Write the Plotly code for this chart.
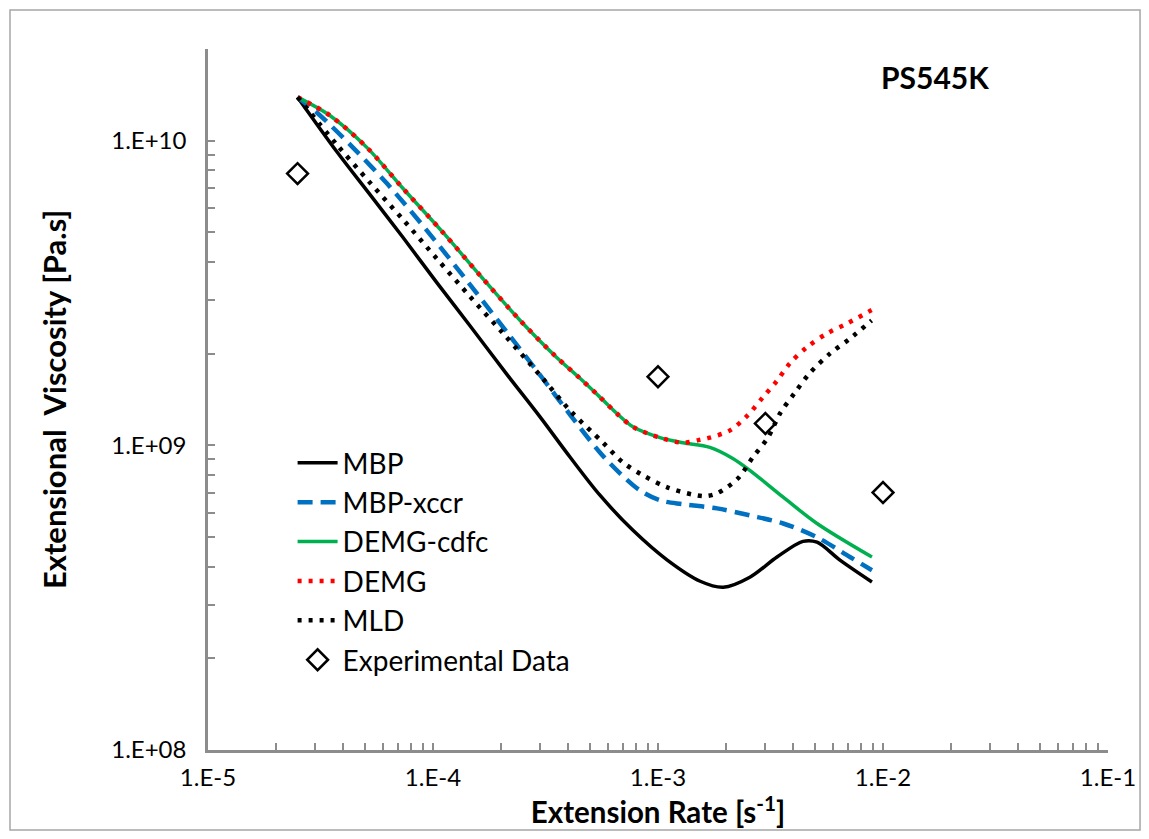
import numpy as np
import plotly.graph_objects as go

# ---------------- data ----------------
mbp_x = [2.5e-5, 3.74e-5, 5.25e-5, 7.36e-5, 1.04e-4, 1.46e-4, 2.13e-4, 2.99e-4, 4.07e-4, 5.52e-4,
         7.74e-4, 1.10e-3, 1.54e-3, 1.95e-3, 2.56e-3, 3.38e-3, 4.41e-3, 5.09e-3, 6.44e-3, 8.93e-3]
mbp_y = [1.39e10, 9.2e9, 6.65e9, 4.81e9, 3.42e9, 2.47e9, 1.71e9, 1.24e9, 9.14e8, 6.86e8,
         5.26e8, 4.20e8, 3.58e8, 3.42e8, 3.69e8, 4.30e8, 4.84e8, 4.81e8, 4.20e8, 3.56e8]

xccr_x = [2.5e-5, 3.15e-5, 4.41e-5, 6.25e-5, 9.40e-5, 1.46e-4, 2.20e-4, 3.05e-4, 4.07e-4,
          5.52e-4, 6.78e-4, 8.32e-4, 1.02e-3, 1.29e-3, 1.83e-3, 2.56e-3, 3.60e-3, 5.09e-3, 7.13e-3, 8.93e-3]
xccr_y = [1.39e10, 1.21e10, 9.49e9, 7.23e9, 5.07e9, 3.37e9, 2.28e9, 1.67e9, 1.26e9,
          9.48e8, 8.09e8, 7.11e8, 6.60e8, 6.41e8, 6.21e8, 5.89e8, 5.54e8, 4.99e8, 4.30e8, 3.89e8]

cdfc_x = [2.5e-5, 3.48e-5, 5.09e-5, 7.36e-5, 1.11e-4, 1.62e-4, 2.44e-4, 3.48e-4, 4.50e-4, 5.52e-4,
          6.58e-4, 7.74e-4, 1.02e-3, 1.29e-3, 1.70e-3, 2.15e-3, 2.56e-3, 3.60e-3, 5.09e-3, 8.93e-3]
cdfc_y = [1.39e10, 1.21e10, 9.49e9, 6.97e9, 4.99e9, 3.61e9, 2.57e9, 1.97e9, 1.66e9, 1.44e9,
          1.27e9, 1.15e9, 1.06e9, 1.02e9, 9.85e8, 9.06e8, 8.28e8, 6.76e8, 5.54e8, 4.30e8]

demg_x = [2.5e-5, 3.48e-5, 5.09e-5, 7.36e-5, 1.11e-4, 1.62e-4, 2.44e-4, 3.48e-4, 4.50e-4, 5.52e-4,
          6.58e-4, 7.74e-4, 1.02e-3, 1.29e-3, 1.51e-3, 1.70e-3, 2.09e-3, 2.49e-3, 2.93e-3, 3.38e-3,
          3.86e-3, 4.59e-3, 5.64e-3, 6.92e-3, 8.90e-3]
demg_y = [1.39e10, 1.21e10, 9.49e9, 6.97e9, 4.99e9, 3.61e9, 2.57e9, 1.97e9, 1.66e9, 1.44e9,
          1.27e9, 1.15e9, 1.06e9, 1.02e9, 1.04e9, 1.06e9, 1.12e9, 1.25e9, 1.44e9, 1.63e9,
          1.86e9, 2.10e9, 2.33e9, 2.51e9, 2.78e9]

mld_x = [2.5e-5, 3.74e-5, 5.25e-5, 7.36e-5, 1.04e-4, 1.46e-4, 2.05e-4, 3.05e-4, 4.07e-4,
         5.70e-4, 6.99e-4, 8.58e-4, 1.10e-3, 1.42e-3, 1.62e-3, 1.83e-3, 2.27e-3, 2.64e-3, 3.08e-3,
         3.48e-3, 4.06e-3, 4.74e-3, 5.81e-3, 7.13e-3, 8.90e-3]
mld_y = [1.39e10, 9.7e9, 7.28e9, 5.51e9, 4.10e9, 3.08e9, 2.33e9, 1.67e9, 1.30e9,
         1.02e9, 8.79e8, 7.97e8, 7.28e8, 6.90e8, 6.81e8, 6.96e8, 7.80e8, 9.14e8, 1.06e9,
         1.27e9, 1.49e9, 1.73e9, 2.00e9, 2.24e9, 2.57e9]

exp_x = [2.5e-5, 1.0e-3, 3.0e-3, 1.0e-2]
exp_y = [7.8e9, 1.68e9, 1.18e9, 7.0e8]

x_major = [1e-5, 1e-4, 1e-3, 1e-2, 1e-1]
x_major_text = ["1.E-5", "1.E-4", "1.E-3", "1.E-2", "1.E-1"]
y_major = [1e8, 1e9, 1e10]
y_major_text = ["1.E+08", "1.E+09", "1.E+10"]

FONT = "Lato, 'Open Sans', sans-serif"

fig = go.Figure()
series = [
    ("MBP", mbp_x, mbp_y, dict(color="black", width=3.5)),
    ("MBP-xccr", xccr_x, xccr_y, dict(color="#0070C0", width=4.5, dash="15px,8px")),
    ("DEMG-cdfc", cdfc_x, cdfc_y, dict(color="#00B050", width=3.5)),
    ("DEMG", demg_x, demg_y, dict(color="#FF0000", width=4.5, dash="4px,7px")),
    ("MLD", mld_x, mld_y, dict(color="black", width=4.5, dash="4px,7px")),
]
for name, x, y, line in series:
    line = dict(line, shape="spline", smoothing=0.9)
    fig.add_trace(go.Scatter(x=x, y=y, mode="lines", name=name, line=line,
                             legendgroup=name))
fig.add_trace(go.Scatter(x=exp_x, y=exp_y, mode="markers", name="Experimental Data",
                         legendgroup="exp",
                         marker=dict(symbol="diamond-open", size=16, color="black",
                                     line=dict(width=2.5, color="black"))))

axis_common = dict(showgrid=False, zeroline=False, showline=True, linecolor="#8c8c8c",
                   linewidth=2.5, ticks="inside", ticklen=7, tickwidth=1.5,
                   tickcolor="#8c8c8c", tickfont=dict(family=FONT, size=24, color="black"),
                   minor=dict(ticks="inside", ticklen=7, tickwidth=1.5, tickcolor="#8c8c8c",
                              dtick="D1", showgrid=False),
                   mirror=False)

fig.update_xaxes(type="log", range=[-5, -1], tickmode="array", tickvals=x_major,
                 ticktext=x_major_text,
                 title=dict(text="<b>Extension Rate [s<sup>-1</sup>]</b>",
                            font=dict(family=FONT, size=29.5, color="black"), standoff=4),
                 ticklabelstandoff=4, **axis_common)
fig.update_yaxes(type="log", range=[8, np.log10(2e10)], tickmode="array", tickvals=y_major,
                 ticktext=y_major_text,
                 title=dict(text="<b>Extensional\u00a0\u00a0Viscosity [Pa.s]</b>",
                            font=dict(family=FONT, size=31, color="black"), standoff=36),
                 ticklabelstandoff=14, **axis_common)

fig.add_annotation(text="<b>PS545K</b>", xref="paper", yref="paper", x=0.808, y=0.96,
                   xanchor="center", yanchor="middle",
                   showarrow=False, font=dict(family=FONT, size=30, color="black"))

# outer chart border
fig.add_shape(type="rect", xref="paper", yref="paper", x0=-0.22, x1=1.0356, y0=-0.114, y1=1.0556,
              line=dict(color="#a6a6a6", width=1.5), fillcolor="rgba(0,0,0,0)", layer="below")

fig.update_layout(
    width=1149, height=839,
    margin=dict(l=208, r=41, t=49, b=89),
    paper_bgcolor="white", plot_bgcolor="white",
    font=dict(family=FONT, color="black"),
    showlegend=True,
    legend=dict(x=0.094, y=0.445, xanchor="left", yanchor="top", bgcolor="rgba(0,0,0,0)",
                font=dict(family=FONT, size=28, color="black"), tracegroupgap=0,
                itemwidth=40),
)

fig.write_html("out.html")
